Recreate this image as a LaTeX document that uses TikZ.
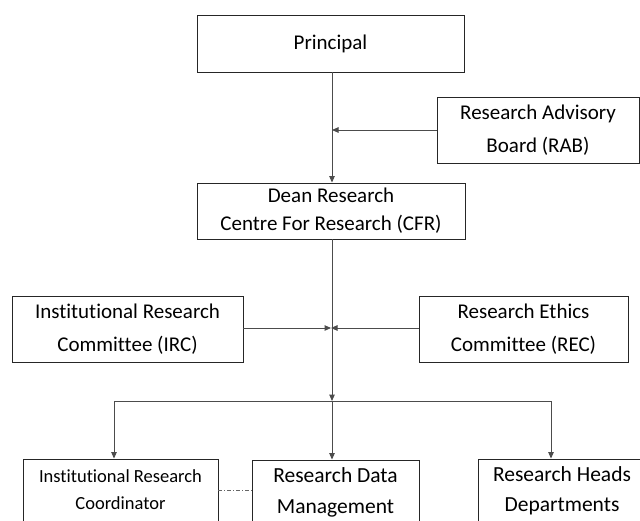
\documentclass[tikz,border=0pt]{standalone}
\usepackage{fontspec}
\setmainfont{Carlito}[Ligatures={NoCommon}]
\usetikzlibrary{arrows.meta}
\tikzset{
  box/.style={draw=black!85, line width=0.9pt, rectangle, inner sep=0pt, align=center,
    font=\fontsize{21}{33}\selectfont, text=black},
  link/.style={draw=black!70, line width=1pt},
  arr/.style={link, -{Triangle[length=6.5pt,width=5.5pt]}},
  dd/.style={draw=black!60, line width=0.8pt, dash pattern=on 4pt off 2pt on 1pt off 2pt}
}
\begin{document}
\begin{tikzpicture}[x=1pt,y=-1pt]
\useasboundingbox (0,0) rectangle (640,520);
\clip (0,0) rectangle (640,520);
\fill[white] (0,0) rectangle (640,520);
\node[box, minimum width=267pt, minimum height=57pt] (p) at (330.5,43.5) {Principal};
\node[box, minimum width=202pt, minimum height=66pt] (rab) at (538,130) {Research Advisory\\Board (RAB)};
\node[box, minimum width=268pt, minimum height=56pt, font=\fontsize{21}{28}\selectfont] (dean) at (331,211) {Dean Research\\Centre For Research (CFR)};
\node[box, minimum width=231pt, minimum height=66pt] (irc) at (127.5,329) {Institutional Research\\Committee (IRC)};
\node[box, minimum width=209pt, minimum height=66pt] (rec) at (523.5,329) {Research Ethics\\Committee (REC)};
\node[box, minimum width=195pt, minimum height=62pt, font=\fontsize{18.5}{27}\selectfont] (irco) at (120.5,490) {Institutional Research\\Coordinator};
\node[box, minimum width=167pt, minimum height=65pt, font=\fontsize{21.5}{31}\selectfont] (rdm) at (335.5,492.5) {Research Data\\Management};
\node[box, minimum width=168pt, minimum height=64pt, font=\fontsize{21.5}{30}\selectfont] (rhd) at (562,491) {Research Heads\\Departments};
\coordinate (j1) at (332,130);
\coordinate (j2) at (332,328);
\coordinate (j3) at (332,401);
\coordinate (hl) at (114,401);
\coordinate (hr) at (551,401);
\draw[arr] (p.south -| j1) -- (dean.north -| j1);
\draw[arr] (rab.west) -- (j1);
\draw[arr] (dean.south -| j3) -- (j3);
\draw[arr, shorten >=1pt] (irc.east |- j2) -- (j2);
\draw[arr, shorten >=-1pt] (rec.west |- j2) -- (j2);
\draw[link] (hl) -- (hr);
\draw[arr] (hl) -- (hl |- irco.north);
\draw[arr] (j3) -- (j3 |- rdm.north);
\draw[arr] (hr) -- (hr |- rhd.north);
\draw[dd] (irco.east) -- (irco.east -| rdm.west);
\end{tikzpicture}
\end{document}
